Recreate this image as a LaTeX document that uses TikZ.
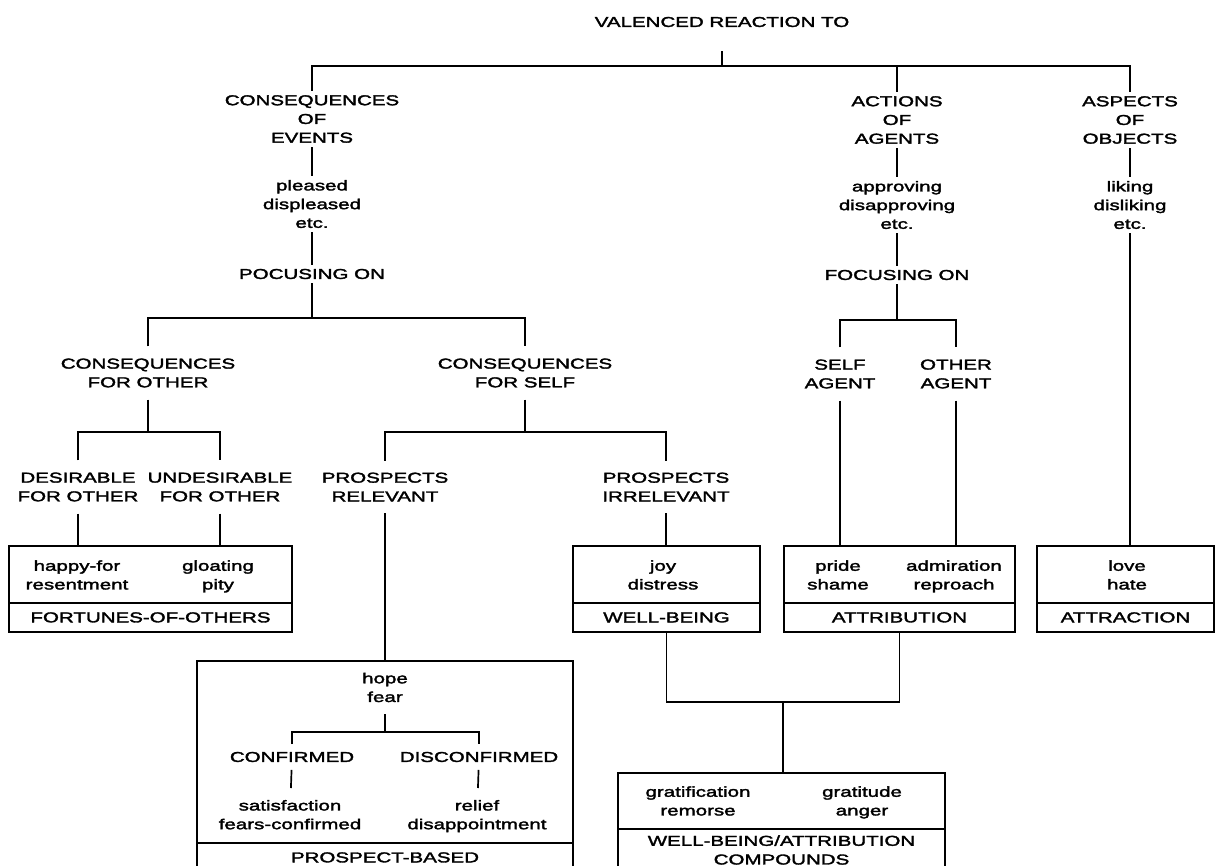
\documentclass[tikz,border=0pt]{standalone}
\usepackage{fontspec}
\newfontfamily\occfont{Liberation Sans}[FakeStretch=1.43,FakeBold=2.2]
\usetikzlibrary{positioning}

\begin{document}
\begin{tikzpicture}[
  x=0.025cm, y=-0.025cm,
  line width=1.2pt,
  lbl/.style={align=center, inner xsep=1pt, inner ysep=2.5pt, font=\occfont\fontsize{10.2pt}{13.3pt}\selectfont},
  lblmid/.style={lbl, inner ysep=5pt},
  lblgap/.style={lbl, inner ysep=8pt},
  emo/.style={lbl, anchor=north},
  emobox/.style={draw, line width=1.2pt, inner sep=0pt, outer sep=0pt, minimum width=#1},
  catbox/.style={emobox=#1, font=\occfont\fontsize{10.2pt}{13.3pt}\selectfont, align=center},
]
  \useasboundingbox (0,0) rectangle (1216,866);
  \clip (0,0) rectangle (1216,866);

  \node[lbl] (title) at (722,22) {VALENCED REACTION TO};
  \node[lbl] (cev) at (312,119) {CONSEQUENCES\\OF\\EVENTS};
  \node[lbl] (aoa) at (897,120) {ACTIONS\\OF\\AGENTS};
  \node[lbl] (aso) at (1130,120) {ASPECTS\\OF\\OBJECTS};
  \node[lbl] (ple) at (312,204) {pleased\\displeased\\etc.};
  \node[lbl] (app) at (897,205) {approving\\disapproving\\etc.};
  \node[lbl] (lik) at (1130,205) {liking\\disliking\\etc.};
  \node[lbl] (foce) at (312,274) {POCUSING ON};
  \node[lbl] (foca) at (897,275) {FOCUSING ON};

  \node[lblgap] (cfo) at (148,373) {CONSEQUENCES\\FOR OTHER};
  \node[lblgap] (cfs) at (525,373) {CONSEQUENCES\\FOR SELF};
  \node[lblgap] (sag) at (840,374) {SELF\\AGENT};
  \node[lblgap] (oag) at (956,374) {OTHER\\AGENT};
  \node[lblgap] (dfo) at (78,487) {DESIRABLE\\FOR OTHER};
  \node[lblgap] (ufo) at (220,487) {UNDESIRABLE\\FOR OTHER};
  \node[lblgap] (pr) at (385,487) {PROSPECTS\\RELEVANT};
  \node[lblgap] (pi) at (666,487) {PROSPECTS\\IRRELEVANT};

  % emotion groups
  \node[emobox=7.075cm, minimum height=1.425cm] (fot) at (150.5,574.5) {};
  \node[catbox=7.075cm, minimum height=0.72cm, below=0pt of fot] (fob) {FORTUNES-OF-OTHERS};
  \node[emo] (fo1) at (77,556) {happy-for\\resentment};
  \node[emo] (fo2) at (218,556) {gloating\\pity};

  \node[emobox=4.675cm, minimum height=1.425cm] (wbt) at (666.5,574.5) {};
  \node[catbox=4.675cm, minimum height=0.72cm, below=0pt of wbt] (wbb) {WELL-BEING};
  \node[emo] (wb1) at (663,556) {joy\\distress};

  \node[emobox=5.775cm, minimum height=1.425cm] (att) at (899.5,574.5) {};
  \node[catbox=5.775cm, minimum height=0.72cm, below=0pt of att] (atb) {ATTRIBUTION};
  \node[emo] (at1) at (838,556) {pride\\shame};
  \node[emo] (at2) at (954,556) {admiration\\reproach};

  \node[emobox=4.425cm, minimum height=1.425cm] (act) at (1125.5,574.5) {};
  \node[catbox=4.425cm, minimum height=0.72cm, below=0pt of act] (acb) {ATTRACTION};
  \node[emo] (ac1) at (1127,556) {love\\hate};

  \node[emobox=9.4cm, minimum height=4.55cm] (pbt) at (385,752) {};
  \node[catbox=9.4cm, minimum height=0.72cm, below=0pt of pbt] (pbb) {PROSPECT-BASED};
  \node[lblgap] (hf) at (385,687.5) {hope\\fear};
  \node[lblmid] (con) at (292,757) {CONFIRMED};
  \node[lblmid] (dis) at (479,757) {DISCONFIRMED};
  \node[lblgap, anchor=north] (sat) at (290,788) {satisfaction\\fears-confirmed};
  \node[lblgap, anchor=north] (rel) at (477,788) {relief\\disappointment};

  \node[emobox=8.175cm, minimum height=1.4cm] (wact) at (781.5,801) {};
  \node[catbox=8.175cm, minimum height=1.05cm, below=0pt of wact] (wacb) {WELL-BEING/ATTRIBUTION\\COMPOUNDS};
  \node[emo] (wa1) at (698,782) {gratification\\remorse};
  \node[emo] (wa2) at (862,782) {gratitude\\anger};

  % junctions
  \coordinate (b0) at (722,66);
  \coordinate (b1) at (312,318);
  \coordinate (b2) at (148,432);
  \coordinate (b3) at (525,432);
  \coordinate (b4) at (897,320);
  \coordinate (b5) at (783,702);
  \coordinate (b6) at (385,732);

  \draw[shorten <=0.5cm] (title.south) -- (b0);
  \draw (cev.north) |- (b0) -| (aso.north);
  \draw (aoa.north) -- (aoa.north |- b0);
  \draw (cev) -- (ple);
  \draw (ple) -- (foce);
  \draw (aoa) -- (app);
  \draw (app) -- (foca);
  \draw (aso) -- (lik);

  \draw (foce.south) -- (b1);
  \draw (cfo.north) |- (b1) -| (cfs.north);
  \draw (cfo.south) -- (b2);
  \draw (dfo.north) |- (b2) -| (ufo.north);
  \draw (cfs.south) -- (b3);
  \draw (pr.north) |- (b3) -| (pi.north);
  \draw (foca.south) -- (b4);
  \draw (sag.north) |- (b4) -| (oag.north);

  \draw (dfo.south) -- (dfo.south |- fot.north);
  \draw (ufo.south) -- (ufo.south |- fot.north);
  \draw (pr.south) -- (pr.south |- pbt.north);
  \draw (pi.south) -- (pi.south |- wbt.north);
  \draw (sag.south) -- (sag.south |- att.north);
  \draw (oag.south) -- (oag.south |- att.north);
  \draw (lik.south) -- (lik.south |- act.north);

  \draw (hf.south) -- (b6);
  \draw (con.north) |- (b6) -| (dis.north);
  \draw (con) -- (sat);
  \draw (dis) -- (rel);

  \draw (wbb.south) |- (b5) -| (atb.south);
  \draw (b5) -- (b5 |- wact.north);
\end{tikzpicture}
\end{document}
